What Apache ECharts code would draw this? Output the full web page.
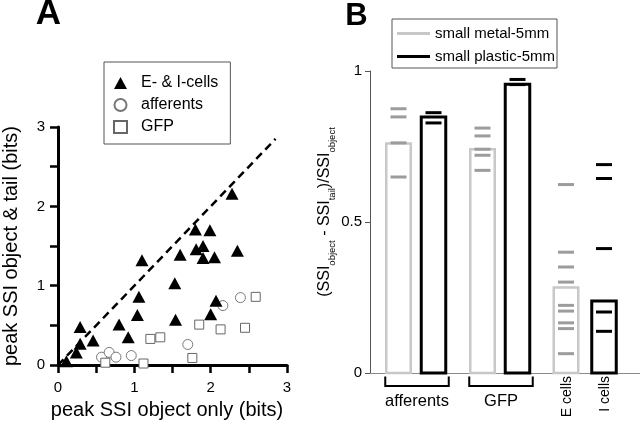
<!DOCTYPE html>
<html><head><meta charset="utf-8">
<script src="https://cdn.jsdelivr.net/npm/echarts@6/dist/echarts.min.js"></script>
<style>html,body{margin:0;padding:0;background:#fff}#c{width:640px;height:425px}</style>
</head><body><div id="c"></div>
<script>
// ---------- Panel A data ----------
const eiCells = [[0.11,0.05],[0.24,0.16],[0.29,0.27],[0.29,0.48],[0.46,0.31],[0.80,0.51],[0.92,0.35],[1.04,0.63],[1.06,0.86],[1.10,1.32],[1.53,1.03],[1.54,0.57],[1.60,1.39],[1.80,1.71],[1.81,1.46],[1.90,1.50],[1.90,1.35],[1.99,1.70],[2.00,0.64],[2.05,1.36],[2.07,0.81],[2.28,2.16],[2.35,1.44]];
const afferentCells = [[0.57,0.10],[0.67,0.16],[0.76,0.10],[0.96,0.12],[1.70,0.26],[2.16,0.75],[2.39,0.85]];
const gfpCells = [[0.62,0.03],[1.12,0.02],[1.21,0.33],[1.34,0.35],[1.76,0.09],[1.85,0.51],[2.13,0.45],[2.45,0.47],[2.59,0.86]];
const identityLine = [[0,0],[2.85,2.85]];
const ticksA = [0,1,2,3];
const seriesNamesA = ['E- & I-cells','afferents','GFP'];

// ---------- Panel B data ----------
const groupsB = ['afferents','GFP','E cells','I cells'];
const metalMean = [0.760, 0.741, 0.283, null];
const plasticMean = [0.848, 0.956, null, 0.238];
const metalCells = [[0.875,0.848,0.762,0.649],[0.811,0.785,0.741,0.721,0.671],[0.624,0.400,0.351,0.301,0.224,0.205,0.166,0.147,0.064],[]];
const plasticCells = [[0.862,0.828],[0.972,0.955],[],[0.690,0.644,0.412,0.202,0.138]];
const ticksB = [0,0.5,1];
const seriesNamesB = ['small metal-5mm','small plastic-5mm'];

// ---------- layout (not data) ----------
const FONT = 'Liberation Sans, Arial, Helvetica, sans-serif';
const LB = {groupCenter:[4.6,13.0,19.6,23.4], pairOffset:1.75, barWidth:2.45, markWidth:1.6, xMax:27};
const METAL_EDGE = '#c8c8c8', METAL_MARK = '#9c9c9c', PLASTIC = '#000';

function slotX(g, kind){
  const both = metalMean[g] != null && plasticMean[g] != null;
  if(!both) return LB.groupCenter[g];
  return LB.groupCenter[g] + (kind === 'metal' ? -LB.pairOffset : LB.pairOffset);
}
const metalBarData = [], plasticBarData = [], metalMarkData = [], plasticMarkData = [];
groupsB.forEach((g,i)=>{
  if(metalMean[i]!=null) metalBarData.push([slotX(i,'metal'), metalMean[i]]);
  if(plasticMean[i]!=null) plasticBarData.push([slotX(i,'plastic'), plasticMean[i]]);
  metalCells[i].forEach(v=>metalMarkData.push([slotX(i,'metal'), v]));
  plasticCells[i].forEach(v=>plasticMarkData.push([slotX(i,'plastic'), v]));
});

function barRender(color, lw){
  return function(params, api){
    const x = api.value(0), v = api.value(1);
    const p0 = api.coord([x - LB.barWidth/2, v]);
    const p1 = api.coord([x + LB.barWidth/2, 0]);
    return {type:'rect', shape:{x:p0[0], y:p0[1], width:p1[0]-p0[0], height:p1[1]-p0[1]},
      style:{fill:'#fff', stroke:color, lineWidth:lw}};
  };
}
function markRender(color){
  return function(params, api){
    const x = api.value(0), v = api.value(1);
    const a = api.coord([x - LB.markWidth/2, v]);
    const b = api.coord([x + LB.markWidth/2, v]);
    return {type:'line', shape:{x1:a[0], y1:a[1], x2:b[0], y2:b[1]}, style:{stroke:color, lineWidth:3}};
  };
}
function groupLabelRender(params, api){
  const g = api.value(0);
  const name = groupsB[g];
  const both = metalMean[g] != null && plasticMean[g] != null;
  const base = api.coord([0,0])[1];
  if(both){
    const l = api.coord([slotX(g,'metal') - LB.barWidth/2 - 0.1, 0])[0];
    const r = api.coord([slotX(g,'plastic') + LB.barWidth/2 + 0.3, 0])[0];
    const by = base + 13;
    return {type:'group', children:[
      {type:'polyline', shape:{points:[[l, base+3.5],[l, by],[r, by],[r, base+3.5]]}, style:{stroke:'#000', lineWidth:2, fill:null}},
      {type:'text', x:(l+r)/2, y:base+28, style:{text:name, align:'center', verticalAlign:'middle', fontSize:16.5, fontFamily:FONT, fill:'#000'}}
    ]};
  }
  const cx = api.coord([LB.groupCenter[g], 0])[0];
  return {type:'text', x:cx+1, y:base+3, rotation:Math.PI/2,
    style:{text:name, align:'right', verticalAlign:'middle', fontSize:14, fontFamily:FONT, fill:'#000'}};
}

const chart = echarts.init(document.getElementById('c'), null, {renderer:'canvas'});
const axisCommonA = {
  type:'value', min:0, max:3, interval:0.5,
  axisLine:{lineStyle:{color:'#000', width:3}},
  axisTick:{length:8, lineStyle:{color:'#000', width:2.5}},
  splitLine:{show:false},
  nameLocation:'middle',
  nameTextStyle:{fontSize:20, color:'#000', fontFamily:FONT},
  axisLabel:{fontSize:15, color:'#000', fontFamily:FONT,
    formatter: v => ticksA.some(t => Math.abs(t - v) < 1e-9) ? String(v) : ''}
};

chart.setOption({
  animation:false,
  textStyle:{fontFamily:FONT},
  graphic:[
    {type:'text', x:48.5, y:14.5, style:{text:'A', align:'center', verticalAlign:'middle', font:'bold 35px ' + FONT, fill:'#000'}},
    {type:'text', x:356.5, y:16, style:{text:'B', align:'center', verticalAlign:'middle', font:'bold 31px ' + FONT, fill:'#000'}}
  ],
  legend:[
    {data:seriesNamesA, orient:'vertical', left:104, top:62, padding:[13,12,9,9], itemGap:6,
     itemWidth:13, itemHeight:12, borderColor:'#555', borderWidth:1, selectedMode:false,
     textStyle:{fontSize:16, color:'#000', fontFamily:FONT, padding:[0,0,0,9]}},
    {data:[{name:seriesNamesB[0], icon:'rect', itemStyle:{color:METAL_EDGE}},
           {name:seriesNamesB[1], icon:'rect', itemStyle:{color:PLASTIC}}],
     orient:'vertical', left:392, top:19, padding:[7,2,4,5], itemGap:8,
     itemWidth:33, itemHeight:3, borderColor:'#555', borderWidth:1, selectedMode:false,
     textStyle:{fontSize:15, color:'#000', fontFamily:FONT}}
  ],
  grid:[
    {left:55, top:127, width:232, height:243},
    {left:370, top:71, width:270, height:302}
  ],
  xAxis:[
    Object.assign({}, axisCommonA, {gridIndex:0, name:'peak SSI object only (bits)', nameGap:34,
      nameTextStyle:Object.assign({}, axisCommonA.nameTextStyle, {padding:[0,11,0,0]}),
      axisLabel:Object.assign({}, axisCommonA.axisLabel, {margin:15})}),
    {type:'value', gridIndex:1, min:0, max:LB.xMax, axisLine:{lineStyle:{color:'#8a8a8a', width:1}},
     axisTick:{show:false}, axisLabel:{show:false}, splitLine:{show:false}}
  ],
  yAxis:[
    Object.assign({}, axisCommonA, {gridIndex:0, name:'peak SSI object & tail (bits)', nameGap:37, nameRotate:90,
      axisLabel:Object.assign({}, axisCommonA.axisLabel, {margin:13})}),
    {type:'value', gridIndex:1, min:ticksB[0], max:ticksB[ticksB.length-1], interval:0.5,
     axisLine:{lineStyle:{color:'#555', width:1}}, axisTick:{length:5, lineStyle:{color:'#555'}},
     axisLabel:{fontSize:15, color:'#000', margin:8, fontFamily:FONT, formatter:v=>String(v)},
     splitLine:{show:false},
     name:'{m|(SSI}{s|object}{m| - SSI}{s|tail}{m|)/SSI}{s|object}', nameLocation:'middle', nameRotate:90, nameGap:33,
     nameTextStyle:{padding:[0,0,0,20], rich:{
       m:{fontSize:16, fontFamily:FONT, color:'#000', verticalAlign:'top', lineHeight:16},
       s:{fontSize:9.5, fontFamily:FONT, color:'#000', verticalAlign:'bottom', lineHeight:20}
     }}}
  ],
  series:[
    {type:'line', xAxisIndex:0, yAxisIndex:0, data:identityLine, symbol:'none', silent:true, z:1,
     lineStyle:{color:'#000', width:2.5, type:[8,5]}},
    {name:seriesNamesA[1], type:'scatter', xAxisIndex:0, yAxisIndex:0, data:afferentCells, symbol:'circle', symbolSize:10, z:2,
     itemStyle:{color:'#fff', borderColor:'#777', borderWidth:1, opacity:1}},
    {name:seriesNamesA[2], type:'scatter', xAxisIndex:0, yAxisIndex:0, data:gfpCells, symbol:'rect', symbolSize:9, z:2,
     itemStyle:{color:'#fff', borderColor:'#666', borderWidth:1, opacity:1}},
    {name:seriesNamesA[0], type:'scatter', xAxisIndex:0, yAxisIndex:0, data:eiCells, symbol:'triangle', symbolSize:[13,12], z:3,
     itemStyle:{color:'#000', opacity:1}},
    {name:seriesNamesB[0], type:'custom', xAxisIndex:1, yAxisIndex:1, data:metalBarData, renderItem:barRender(METAL_EDGE, 2.5), itemStyle:{color:METAL_EDGE}, z:2},
    {name:seriesNamesB[1], type:'custom', xAxisIndex:1, yAxisIndex:1, data:plasticBarData, renderItem:barRender(PLASTIC, 3), itemStyle:{color:PLASTIC}, z:2},
    {type:'custom', xAxisIndex:1, yAxisIndex:1, data:metalMarkData, renderItem:markRender(METAL_MARK), z:3},
    {type:'custom', xAxisIndex:1, yAxisIndex:1, data:plasticMarkData, renderItem:markRender(PLASTIC), z:3},
    {type:'custom', xAxisIndex:1, yAxisIndex:1, data:groupsB.map((g,i)=>[i]), renderItem:groupLabelRender, clip:false, silent:true, z:3}
  ]
});
</script></body></html>
